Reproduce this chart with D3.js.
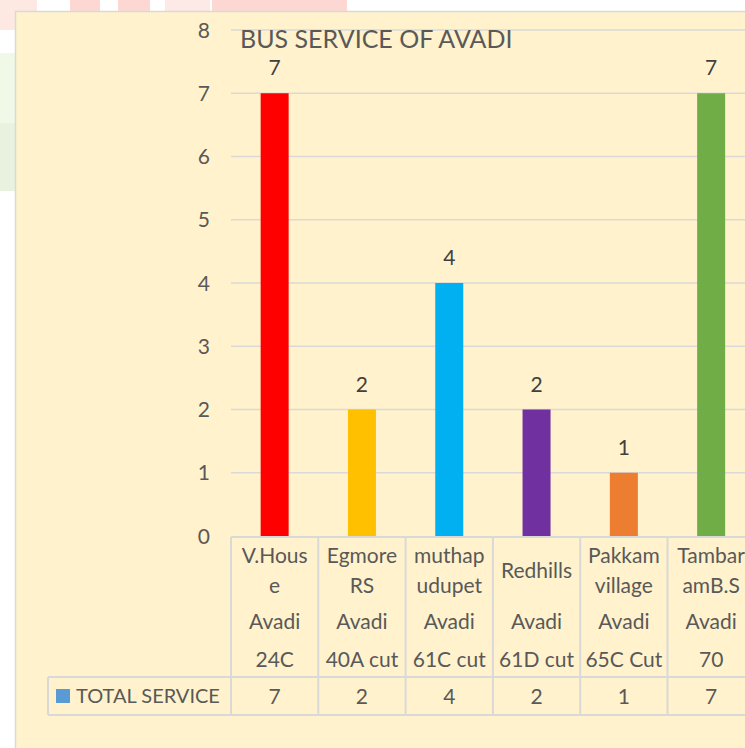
<!DOCTYPE html>
<html>
<head>
<meta charset="utf-8">
<script src="https://cdn.jsdelivr.net/npm/d3@7"></script>
<style>
  html, body { margin: 0; padding: 0; background: #fff; overflow: hidden; }
  svg { display: block; font-family: Lato, "Open Sans", sans-serif; }
</style>
</head>
<body>
<div id="chart"></div>
<script>
const TITLE      = "BUS SERVICE OF AVADI";
const SERIES     = "TOTAL SERVICE";
const PLACES     = [["V.Hous", "e"], ["Egmore", "RS"], ["muthap", "udupet"], ["Redhills"], ["Pakkam", "village"], ["Tambar", "amB.S"]];
const TOWNS      = ["Avadi", "Avadi", "Avadi", "Avadi", "Avadi", "Avadi"];
const ROUTES     = ["24C", "40A cut", "61C cut", "61D cut", "65C Cut", "70"];
const VALUES     = [7, 2, 4, 2, 1, 7];
const BAR_COLORS = ["#FF0000", "#FFC000", "#00B0F0", "#7030A0", "#ED7D31", "#70AD47"];
const Y_TICKS    = [0, 1, 2, 3, 4, 5, 6, 7, 8];

const W = 745, H = 748;
const TEXT  = "#595959";
const GRID  = "#D9D9D9";
const BG    = "#FFF2CC";
const PLOT  = { left: 231, top: 30, bottom: 536, band: 87.3 };
const FS    = "21px";

const svg = d3.select("#chart").append("svg")
  .attr("width", W).attr("height", H);

// faint page background peeking out above / left of the chart
const wm = svg.append("g");
[[0, 0, 37, 11, "#fde8e2"], [70, 0, 30, 11, "#fdd8d2"], [118, 0, 32, 11, "#fdd8d2"],
 [165, 0, 45, 11, "#fde9e5"], [212, 0, 135, 11, "#fdd8d2"], [0, 0, 15, 30, "#fde8e2"],
 [0, 53, 15, 70, "#f0f8e8"], [0, 123, 15, 68, "#e8f2de"]]
  .forEach(([x, y, w, h, c]) => wm.append("rect").attr("x", x).attr("y", y)
    .attr("width", w).attr("height", h).attr("fill", c));

// chart area
svg.append("rect")
  .attr("x", 15.5).attr("y", 11.5)
  .attr("width", W + 10).attr("height", H + 10)
  .attr("fill", BG).attr("stroke", GRID).attr("stroke-width", 1.5);

const cats = PLACES.map((p, i) => i);
const x = d3.scaleBand()
  .domain(cats)
  .range([PLOT.left, PLOT.left + PLOT.band * cats.length]);
const y = d3.scaleLinear().domain([0, 8]).range([PLOT.bottom, PLOT.top]);
const xEnd = PLOT.left + PLOT.band * cats.length;
const barW = 28;

// gridlines
svg.append("g").selectAll("line").data(Y_TICKS.filter(t => t > 0)).join("line")
  .attr("x1", PLOT.left).attr("x2", xEnd)
  .attr("y1", d => y(d)).attr("y2", d => y(d))
  .attr("stroke", GRID).attr("stroke-width", 1.5);

// y tick labels
svg.append("g").selectAll("text").data(Y_TICKS).join("text")
  .attr("x", 210).attr("y", d => y(d) + 7.5)
  .attr("text-anchor", "end")
  .style("font-size", FS).style("fill", TEXT)
  .text(d => d);

// title
svg.append("text")
  .attr("x", 240).attr("y", 48)
  .style("font-size", "25px").style("fill", TEXT)
  .text(TITLE);

// bars
svg.append("g").selectAll("rect").data(VALUES).join("rect")
  .attr("x", (d, i) => x(i) + x.bandwidth() / 2 - barW / 2)
  .attr("y", d => y(d))
  .attr("width", barW)
  .attr("height", d => y(0) - y(d))
  .attr("fill", (d, i) => BAR_COLORS[i]);

// data labels
svg.append("g").selectAll("text").data(VALUES).join("text")
  .attr("x", (d, i) => x(i) + x.bandwidth() / 2)
  .attr("y", d => y(d) - 18)
  .attr("text-anchor", "middle")
  .style("font-size", FS).style("fill", "#404040")
  .text(d => d);

// data table
const tbl = svg.append("g");
const hLine = (x1, x2, yy) => tbl.append("line")
  .attr("x1", x1).attr("x2", x2).attr("y1", yy).attr("y2", yy)
  .attr("stroke", GRID).attr("stroke-width", 2);
const vLine = (xx, y1, y2) => tbl.append("line")
  .attr("x1", xx).attr("x2", xx).attr("y1", y1).attr("y2", y2)
  .attr("stroke", GRID).attr("stroke-width", 2);

hLine(PLOT.left, xEnd, 537);
hLine(48, xEnd, 677);
hLine(48, xEnd, 715);
vLine(48, 677, 715);
cats.forEach(i => vLine(x(i), 537, 715));
vLine(xEnd, 537, 715);

const cell = (txt, cx, by) => tbl.append("text")
  .attr("x", cx).attr("y", by)
  .attr("text-anchor", "middle")
  .style("font-size", FS).style("fill", TEXT)
  .text(txt);

cats.forEach(i => {
  const cx = x(i) + x.bandwidth() / 2;
  const lines = PLACES[i];
  if (lines.length === 1) cell(lines[0], cx, 578);
  else lines.forEach((t, k) => cell(t, cx, 563 + k * 30));
  cell(TOWNS[i], cx, 629);
  cell(ROUTES[i], cx, 667);
  cell(VALUES[i], cx, 704);
});

// legend key in the table
tbl.append("rect")
  .attr("x", 56).attr("y", 689).attr("width", 14).attr("height", 14)
  .attr("fill", "#5B9BD5");
tbl.append("text")
  .attr("x", 76).attr("y", 703)
  .style("font-size", "20px").style("fill", TEXT)
  .text(SERIES);
</script>
</body>
</html>
